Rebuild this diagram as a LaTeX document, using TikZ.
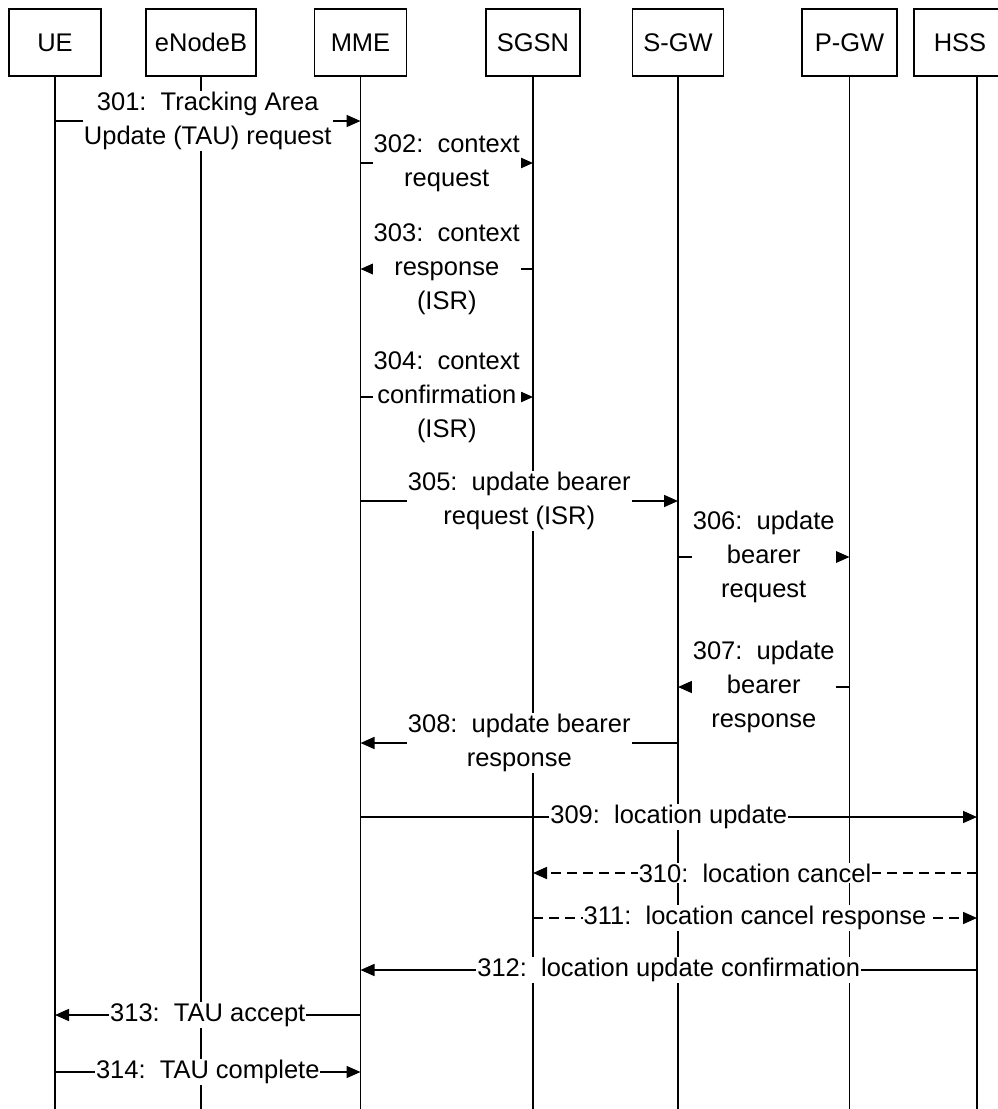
\documentclass[tikz,border=0pt]{standalone}
\usepackage{fontspec}
\setmainfont{Liberation Sans}
\usetikzlibrary{arrows.meta}
\begin{document}
\begin{tikzpicture}[x=1pt,y=-1pt,
  every node/.style={font=\fontsize{25.5}{34}\selectfont},
  entity/.style={draw, line width=1.7pt, minimum width=92pt, minimum height=67pt, inner sep=0pt},
  life/.style={line width=1.7pt},
  msg/.style={fill=white, inner sep=1pt, outer sep=0pt, align=center},
  call/.style={line width=1.7pt, -{Triangle[length=14pt,width=12pt]}},
  back/.style={call, dash pattern=on 10pt off 6pt}]
\useasboundingbox (0,0) rectangle (997,1109);
\fill[white] (0,0) rectangle (997,1109);

% participants
\node[entity] (ue) at (55,42.5) {UE};
\node[entity, minimum width=110pt] (enb) at (201,42.5) {eNodeB};
\node[entity] (mme) at (360.5,42.5) {MME};
\node[entity, minimum width=94pt] (sgsn) at (533,42.5) {SGSN};
\node[entity, minimum width=91pt] (sgw) at (678,42.5) {S-GW};
\node[entity, minimum width=95pt] (pgw) at (849.5,42.5) {P-GW};
\node[entity] (hss) at (960,42.5) {HSS};
\coordinate (hsstop) at (977,76);
\coordinate (bot) at (0,1109);

% lifelines
\foreach \p in {ue,enb,mme,sgsn,sgw,pgw}
  \draw[life] (\p.south) -- (\p.south |- bot);
\draw[life] (hsstop) -- (hsstop |- bot);

% message rows
\coordinate (m301) at (0,121);
\coordinate (m302) at (0,163);
\coordinate (m303) at (0,269);
\coordinate (m304) at (0,397);
\coordinate (m305) at (0,501);
\coordinate (m306) at (0,557);
\coordinate (m307) at (0,687);
\coordinate (m308) at (0,743);
\coordinate (m309) at (0,817);
\coordinate (m310) at (0,873);
\coordinate (m311) at (0,918);
\coordinate (m312) at (0,970);
\coordinate (m313) at (0,1015);
\coordinate (m314) at (0,1072);

% messages
\draw[call] (ue |- m301) -- node[msg] {301:\ \ Tracking Area\\Update (TAU) request} (mme |- m301);
\draw[call] (mme |- m302) -- node[msg] {302:\ \ context\\request} (sgsn |- m302);
\draw[call] (sgsn |- m303) -- node[msg] {303:\ \ context\\response\\(ISR)} (mme |- m303);
\draw[call] (mme |- m304) -- node[msg] {304:\ \ context\\confirmation\\(ISR)} (sgsn |- m304);
\draw[call] (mme |- m305) -- node[msg] {305:\ \ update bearer\\request (ISR)} (sgw |- m305);
\draw[call] (sgw |- m306) -- node[msg] {306:\ \ update\\bearer\\request} (pgw |- m306);
\draw[call] (pgw |- m307) -- node[msg] {307:\ \ update\\bearer\\response} (sgw |- m307);
\draw[call] (sgw |- m308) -- node[msg] {308:\ \ update bearer\\response} (mme |- m308);
\draw[call] (mme |- m309) -- node[msg] {309:\ \ location update} (hsstop |- m309);
\draw[back] (hsstop |- m310) -- node[msg] {310:\ \ location cancel} (sgsn |- m310);
\draw[back] (sgsn |- m311) -- node[msg] {311:\ \ location cancel response} (hsstop |- m311);
\draw[call] (hsstop |- m312) -- node[msg] {312:\ \ location update confirmation} (mme |- m312);
\draw[call] (mme |- m313) -- node[msg] {313:\ \ TAU accept} (ue |- m313);
\draw[call] (ue |- m314) -- node[msg] {314:\ \ TAU complete} (mme |- m314);
\end{tikzpicture}
\end{document}
